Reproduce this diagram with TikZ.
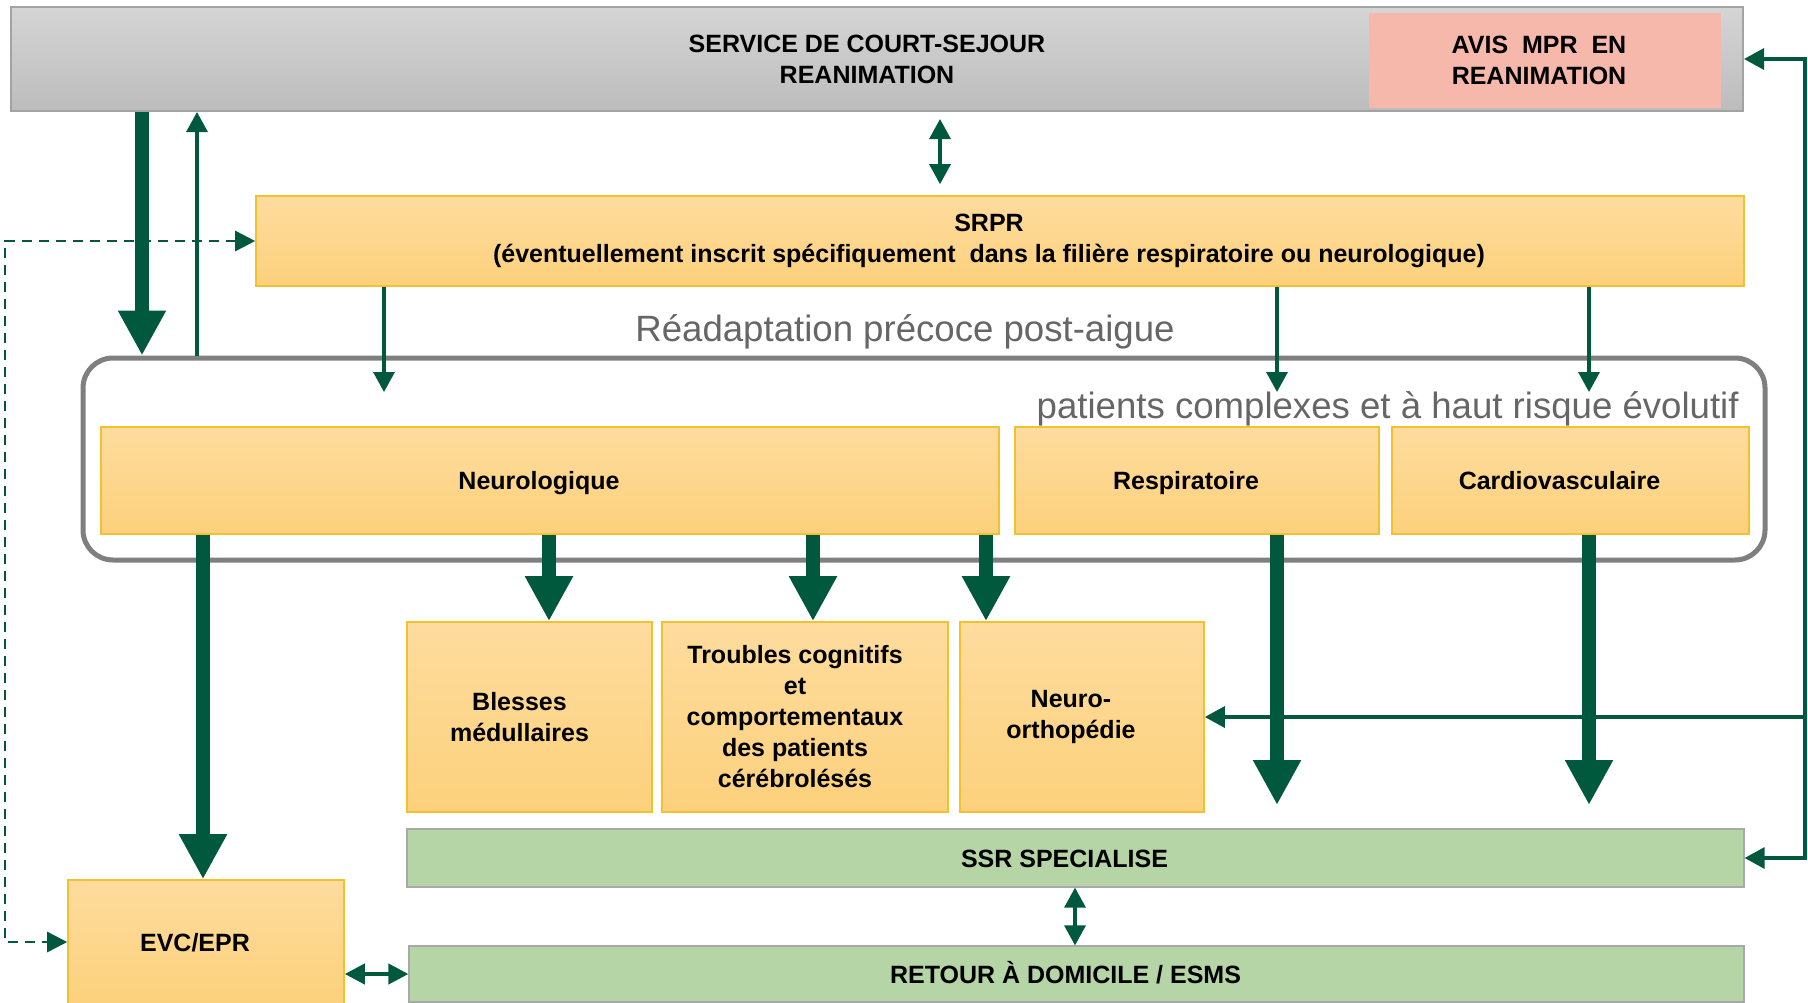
\documentclass[tikz,border=0pt]{standalone}
\usepackage{fontspec}
\setmainfont{Liberation Sans}
\usepackage{tikz}
\usetikzlibrary{positioning}
\usetikzlibrary{arrows.meta}
\usepackage{xcolor}

\definecolor{grishaut}{HTML}{D5D5D5}
\definecolor{grisbas}{HTML}{BCBCBC}
\definecolor{grisbord}{HTML}{A3A3A3}
\definecolor{rosefond}{HTML}{F5B8AA}
\definecolor{orhaut}{HTML}{FEDC9E}
\definecolor{orbas}{HTML}{FCD17C}
\definecolor{orbord}{HTML}{F3C12F}
\definecolor{vertfond}{HTML}{B5D5A6}
\definecolor{vertbord}{HTML}{A8A8A8}
\definecolor{fonce}{HTML}{00583D}
\definecolor{gristexte}{HTML}{666666}
\definecolor{griscadre}{HTML}{7F7F7F}

\begin{document}
\begin{tikzpicture}[x=0.5pt, y=-0.5pt,
            every node/.style={font=\bfseries\fontsize{12.5}{15.5}\selectfont, align=center, inner sep=0pt},
            ligne/.style={text height=9pt, text depth=0pt},
            gris/.style={rectangle, draw=grisbord, line width=1pt, top color=grishaut, bottom color=grisbas},
            rose/.style={rectangle, fill=rosefond},
            boite/.style={rectangle, draw=orbord, line width=0.8pt, top color=orhaut, bottom color=orbas},
            vert/.style={rectangle, draw=vertbord, line width=0.6pt, fill=vertfond},
            cadre/.style={rectangle, draw=griscadre, line width=2.5pt, rounded corners=15pt},
            titre/.style={font=\fontsize{18.3}{20}\selectfont, text=gristexte},
            gros/.style={line width=7pt, draw=fonce, >={Triangle[width=22.5pt, length=22.5pt]}},
            fin/.style={line width=1.6pt, draw=fonce, >={Triangle[width=10.5pt, length=10pt]}},
            moyen/.style={line width=2pt, draw=fonce, >={Triangle[width=10pt, length=10pt]}},
            tirets/.style={line width=1.35pt, draw=fonce, dash pattern=on 5pt off 3.5pt, >={Triangle[width=10pt, length=10pt]}}]
            \useasboundingbox (0, 0) rectangle (1808, 1002);

            \node[gris, minimum width=866pt, minimum height=52pt] (rea) at (877, 59) {};
            \node (rea-t) at ([xshift=-5pt]rea.center) {SERVICE DE COURT-SEJOUR\\REANIMATION};
            \node[rose, minimum width=176pt, minimum height=47.5pt] (avis) at (1545, 60.5) {};
            \node (avis-t) at ([xshift=-3pt]avis.center) {AVIS\ \ MPR\ \ EN\\REANIMATION};
            \node[boite, minimum width=744pt, minimum height=45pt] (srpr) at (1000, 241) {};
            \node (srpr-t) at ([xshift=-5.5pt]srpr.center) {SRPR\\(éventuellement inscrit spécifiquement\ \ dans la filière respiratoire ou neurologique)};
            \node[titre] (readap) at (905, 332) {Réadaptation précoce post-aigue};
            \node[cadre, minimum width=841pt, minimum height=101pt] (groupe) at (924, 459) {};
            \node[titre, anchor=east] (complexes) at (1739, 409) {patients complexes et à haut risque évolutif};
            \node[boite, minimum width=449pt, minimum height=53.5pt] (neuro) at (550, 480.5) {};
            \node[ligne] (neuro-t) at ([xshift=-5.5pt]neuro.center) {Neurologique};
            \node[boite, minimum width=182pt, minimum height=53.5pt] (resp) at (1197, 480.5) {};
            \node[ligne] (resp-t) at ([xshift=-5.5pt]resp.center) {Respiratoire};
            \node[boite, minimum width=178.5pt, minimum height=53.5pt] (cardio) at (1570.5, 480.5) {};
            \node[ligne] (cardio-t) at ([xshift=-5.5pt]cardio.center) {Cardiovasculaire};
            \node[boite, minimum width=122.5pt, minimum height=95pt] (blesses) at (529.5, 717) {};
            \node (blesses-t) at ([xshift=-5pt]blesses.center) {Blesses\\médullaires};
            \node[boite, minimum width=143pt, minimum height=95pt] (troubles) at (805, 717) {};
            \node (troubles-t) at ([xshift=-5pt]troubles.center) {Troubles cognitifs\\et\\comportementaux\\des patients\\cérébrolésés};
            \node[boite, minimum width=122pt, minimum height=95pt] (ortho) at (1082, 717) {};
            \node (ortho-t) at ([xshift=-5.5pt]ortho.center) {Neuro-\\orthopédie};
            \node[vert, minimum width=668.5pt, minimum height=29pt] (ssr) at (1075.5, 858) {};
            \node[ligne] (ssr-t) at ([xshift=-5.5pt]ssr.center) {SSR SPECIALISE};
            \node[vert, minimum width=667.5pt, minimum height=28pt] (retour) at (1076.5, 974) {};
            \node[ligne] (retour-t) at ([xshift=-5.5pt]retour.center) {RETOUR À DOMICILE / ESMS};
            \node[boite, minimum width=138pt, minimum height=62pt] (evc) at (206, 942) {};
            \node[ligne] (evc-t) at ([xshift=-5.5pt]evc.center) {EVC/EPR};

            \coordinate (x1) at (142, 0);
            \coordinate (x2) at (197, 0);
            \coordinate (x3) at (384, 0);
            \coordinate (x4) at (1277, 0);
            \coordinate (x5) at (1589, 0);
            \coordinate (x6) at (549, 0);
            \coordinate (x7) at (813, 0);
            \coordinate (x8) at (986, 0);
            \coordinate (x9) at (940, 0);
            \coordinate (x10) at (1075, 0);
            \coordinate (x11) at (203, 0);
            \coordinate (bord) at (1805, 717);
            \coordinate (bas) at (0, 805);
            \coordinate (pointe) at (0, 392);

            \draw[gros, ->] (rea.south -| x1) -- (groupe.north -| x1);
            \draw[fin, ->] (groupe.north -| x2) -- (rea.south -| x2);
            \draw[fin, <->] (rea.south -| x9) ++(0, 7) -- ([yshift=5.5pt]srpr.north -| x9);
            \draw[fin, ->] (srpr.south -| x3) -- (pointe -| x3);
            \draw[fin, ->] (srpr.south -| x4) -- (pointe -| x4);
            \draw[fin, ->] (srpr.south -| x5) -- (pointe -| x5);
            \draw[tirets, <->] (srpr.west) -- (5, 241) |- (evc.west);
            \draw[gros, ->] (neuro.south -| x11) -- (evc.north -| x11);
            \draw[gros, ->] (neuro.south -| x6) -- (blesses.north -| x6);
            \draw[gros, ->] (neuro.south -| x7) -- (troubles.north -| x7);
            \draw[gros, ->] (neuro.south -| x8) -- (ortho.north -| x8);
            \draw[gros, ->] (resp.south -| x4) -- (bas -| x4);
            \draw[gros, ->] (cardio.south -| x5) -- (bas -| x5);
            \draw[fin, <->] (rea.east) -| (bord) |- (ssr.east);
            \draw[fin, ->] (bord) -- (ortho.east);
            \draw[fin, <->] (ssr.south -| x10) -- (retour.north -| x10);
            \draw[moyen, <->] (evc.east |- retour) -- (retour.west);
        \end{tikzpicture}
\end{document}
